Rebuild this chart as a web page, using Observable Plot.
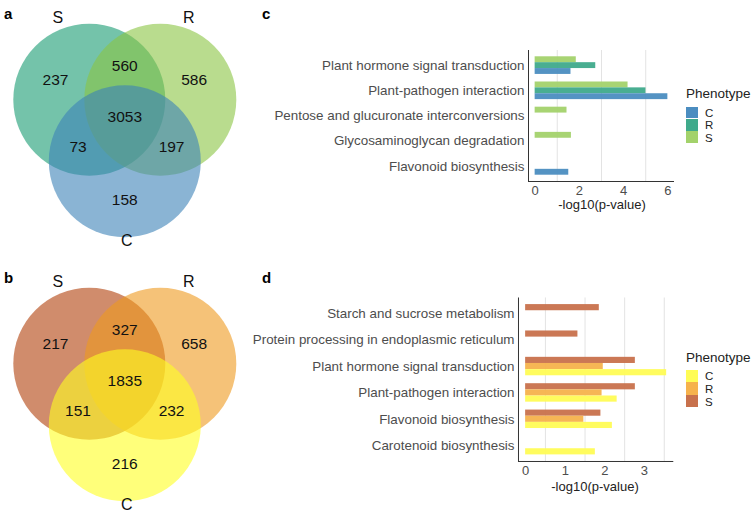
<!DOCTYPE html>
<html><head><meta charset="utf-8">
<script src="https://cdn.jsdelivr.net/npm/d3@7"></script>
<script src="https://cdn.jsdelivr.net/npm/@observablehq/plot@0.6"></script>
<style>
body{margin:0;background:#fff;font-family:"Liberation Sans",Arial,sans-serif;}
#root{position:relative;width:755px;height:518px;overflow:hidden;background:#fff;}
#root svg{overflow:visible;}
.plet{position:absolute;font-weight:bold;font-size:15px;color:#000;line-height:15px;}
.atitle{position:absolute;font-size:13px;color:#222;transform:translate(-50%,-50%);white-space:nowrap;line-height:15px;}
.ltitle{position:absolute;font-size:13.5px;color:#222;line-height:15px;white-space:nowrap;}
.sw{position:absolute;width:12px;}
.sl{position:absolute;font-size:11.5px;color:#222;line-height:12px;}
</style></head><body><div id="root"></div>
<script>
// ---- Venn data ----
const vennSets = ["S", "R", "C"];
const vennRegions = ["S", "R", "C", "SR", "SC", "RC", "SRC"];
const vennCountsA = [237, 586, 158, 560, 73, 197, 3053];
const vennCountsB = [217, 658, 216, 327, 151, 232, 1835];

// ---- Panel c data ----
const phenotypes = ["S", "R", "C"];
const legendOrder = ["C", "R", "S"];
const cPathways = ["Plant hormone signal transduction", "Plant-pathogen interaction", "Pentose and glucuronate interconversions", "Glycosaminoglycan degradation", "Flavonoid biosynthesis"];
const cValuesS = [1.86, 4.20, 1.44, 1.64, null];
const cValuesR = [2.74, 5.01, null, null, null];
const cValuesC = [1.62, 6.00, null, null, 1.52];
const cTicks = [0, 2, 4, 6];

// ---- Panel d data ----
const dPathways = ["Starch and sucrose metabolism", "Protein processing in endoplasmic reticulum", "Plant hormone signal transduction", "Plant-pathogen interaction", "Flavonoid biosynthesis", "Carotenoid biosynthesis"];
const dValuesS = [1.86, 1.32, 2.77, 2.77, 1.90, null];
const dValuesR = [null, null, 1.96, 1.93, 1.47, null];
const dValuesC = [null, null, 3.56, 2.31, 2.19, 1.76];
const dTicks = [0, 1, 2, 3];

const root = document.getElementById("root");
function place(el, left, top) {
  el.style.position = "absolute"; el.style.left = left + "px"; el.style.top = top + "px";
  root.appendChild(el);
}
function addDiv(cls, text, left, top, extra) {
  const d = document.createElement("div");
  d.className = cls; d.textContent = text || "";
  d.style.left = left + "px"; d.style.top = top + "px";
  if (extra) Object.assign(d.style, extra);
  root.appendChild(d);
  return d;
}

// ---- Venn ----
const vennDir = {S: [-0.866, -0.5], R: [0.866, -0.5], C: [0, 1]};
const setLabelOffset = {S: [-67, -102], R: [64, -102], C: [2, 121]};
function vennPlot(counts, colors) {
  const ring = 41, rad = 76;
  const circles = vennSets.map(s => ({set: s, x: vennDir[s][0] * ring, y: vennDir[s][1] * ring}));
  const pos = k => {
    if (k.length === 1) return vennDir[k].map(v => v * 80);
    if (k.length === 2) { const o = vennSets.find(s => !k.includes(s)); return vennDir[o].map(v => -v * 54); }
    return [0, -3];
  };
  const labels = vennRegions.map((k, i) => ({n: counts[i], x: pos(k)[0], y: pos(k)[1]}));
  const setLabels = vennSets.map(s => ({s, x: setLabelOffset[s][0], y: setLabelOffset[s][1]}));
  return Plot.plot({
    width: 260, height: 260, margin: 0,
    x: {domain: [-124.3, 135.7], range: [0, 260], axis: null},
    y: {domain: [-119.7, 140.3], range: [0, 260], axis: null},
    color: {domain: vennSets, range: colors},
    style: {background: "transparent", fontFamily: "Liberation Sans, Arial, sans-serif"},
    marks: [
      Plot.dot(circles, {x: "x", y: "y", r: rad, fill: "set", fillOpacity: 0.6, stroke: null}),
      Plot.text(labels, {x: "x", y: "y", text: d => String(d.n), fontSize: 15.5, fill: "#111"}),
      Plot.text(setLabels, {x: "x", y: "y", text: "s", fontSize: 16, fill: "#111"})
    ]
  });
}
place(vennPlot(vennCountsA, ["#179b71", "#8ac543", "#3c82b7"]), 0, 0);
place(vennPlot(vennCountsB, ["#b13f0a", "#ee991e", "#ffff21"]), 0, 264);

// ---- Bars ----
function barPlot(pathways, series, colors, o) {
  const n = pathways.length;
  const rows = [];
  pathways.forEach((p, i) => phenotypes.forEach((ph, j) => {
    const v = series[ph][i];
    if (v != null) rows.push({p, i, ph, j, v});
  }));
  const band = 0.7, slot = band / 3;
  return Plot.plot({
    width: o.width, height: o.height,
    marginLeft: o.marginLeft, marginRight: 0, marginTop: o.marginTop, marginBottom: o.marginBottom,
    x: {domain: o.xDomain, axis: null},
    y: {domain: [n - 0.4, -0.6], axis: null},
    color: {domain: legendOrder, range: colors},
    style: {background: "transparent", fontFamily: "Liberation Sans, Arial, sans-serif", overflow: "visible"},
    marks: [
      Plot.ruleX(o.grid, {stroke: "#e3e3e3", strokeWidth: 1}),
      Plot.rect(rows, {x1: 0, x2: "v", y1: d => d.i - band / 2 + d.j * slot, y2: d => d.i - band / 2 + (d.j + 1) * slot, fill: "ph", fillOpacity: 0.95}),
      Plot.ruleX([o.xDomain[0]], {stroke: "#333", strokeWidth: 1}),
      Plot.ruleY([n - 0.4], {stroke: "#333", strokeWidth: 1}),
      Plot.axisY(d3.range(n), {tickFormat: i => pathways[i], tickSize: 0, tickPadding: 4, fontSize: 13.4, fill: "#4d4d4d", label: null}),
      Plot.axisX(o.ticks, {tickFormat: d => String(d), tickSize: 0, tickPadding: 4, fontSize: 13, fill: "#4d4d4d", label: null})
    ]
  });
}
const cColors = ["#4b8dc0", "#3faa8b", "#a3d26b"];
place(barPlot(cPathways, {S: cValuesS, R: cValuesR, C: cValuesC}, cColors,
  {width: 434, height: 215, marginLeft: 288, marginTop: 50, marginBottom: 34, xDomain: [-0.3, 6.3], ticks: cTicks, grid: [1, 3, 5]}), 240, 0);
const dColors = ["#fffc55", "#f6b24c", "#c8714c"];
place(barPlot(dPathways, {S: dValuesS, R: dValuesR, C: dValuesC}, dColors,
  {width: 433.3, height: 231, marginLeft: 278, marginTop: 33.5, marginBottom: 34, xDomain: [-0.18, 3.74], ticks: dTicks, grid: [0.5, 1.5, 2.5, 3.5]}), 240, 264);

// axis titles
addDiv("atitle", "-log10(p-value)", 602, 204);
addDiv("atitle", "-log10(p-value)", 595, 486);

// legends
function legend(colors, titleTop, swTop, step) {
  addDiv("ltitle", "Phenotype", 686, titleTop);
  legendOrder.forEach((k, i) => {
    addDiv("sw", "", 686, swTop + i * step, {background: colors[i], height: (step - 0.5) + "px"});
    addDiv("sl", k, 705, swTop + i * step + (step - 12) / 2);
  });
}
legend(cColors, 86, 106.5, 12.4);
legend(dColors, 350, 369.5, 12.8);

// panel letters
addDiv("plet", "a", 4, 6);
addDiv("plet", "b", 4, 270);
addDiv("plet", "c", 262, 6);
addDiv("plet", "d", 262, 270);
</script></body></html>
